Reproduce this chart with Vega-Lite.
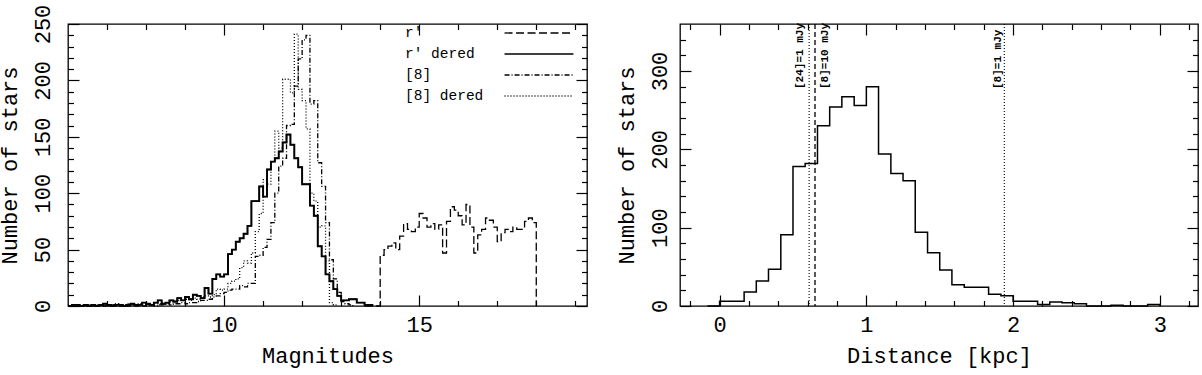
{
"$schema": "https://vega.github.io/schema/vega-lite/v6.json",
"background": "white",
"padding": {"left": -3, "top": 3, "right": 0, "bottom": 8},
"spacing": 25,
"config": {
  "view": {"stroke": "black", "strokeWidth": 1.3},
  "axis": {"grid": false, "domain": false, "tickColor": "black", "tickWidth": 1.2, "labelFlush": false, "labelOverlap": false,
    "labelFont": "Liberation Mono", "labelFontSize": 22, "labelColor": "black",
    "titleFont": "Liberation Mono", "titleFontSize": 22, "titleFontWeight": "normal", "titleColor": "black"}
},
"datasets": {
  "mag": [
    {"s":"r'","m":13.6,"n":0},{"s":"r'","m":13.7,"n":0},{"s":"r'","m":13.8,"n":0},{"s":"r'","m":13.9,"n":0},
    {"s":"r'","m":14.0,"n":45},{"s":"r'","m":14.1,"n":50},{"s":"r'","m":14.2,"n":53},{"s":"r'","m":14.3,"n":56},{"s":"r'","m":14.4,"n":50},
    {"s":"r'","m":14.5,"n":62},{"s":"r'","m":14.6,"n":73},{"s":"r'","m":14.7,"n":68},{"s":"r'","m":14.8,"n":66},{"s":"r'","m":14.9,"n":70},
    {"s":"r'","m":15.0,"n":82},{"s":"r'","m":15.1,"n":78},{"s":"r'","m":15.2,"n":70},{"s":"r'","m":15.3,"n":73},{"s":"r'","m":15.4,"n":68},
    {"s":"r'","m":15.5,"n":72},{"s":"r'","m":15.6,"n":47},{"s":"r'","m":15.7,"n":75},{"s":"r'","m":15.8,"n":88},{"s":"r'","m":15.9,"n":85},
    {"s":"r'","m":16.0,"n":80},{"s":"r'","m":16.1,"n":72},{"s":"r'","m":16.2,"n":90},{"s":"r'","m":16.3,"n":70},{"s":"r'","m":16.4,"n":47},
    {"s":"r'","m":16.5,"n":63},{"s":"r'","m":16.6,"n":68},{"s":"r'","m":16.7,"n":78},{"s":"r'","m":16.8,"n":76},{"s":"r'","m":16.9,"n":70},
    {"s":"r'","m":17.0,"n":57},{"s":"r'","m":17.1,"n":65},{"s":"r'","m":17.2,"n":68},{"s":"r'","m":17.3,"n":66},{"s":"r'","m":17.4,"n":70},
    {"s":"r'","m":17.5,"n":68},{"s":"r'","m":17.6,"n":68},{"s":"r'","m":17.7,"n":75},{"s":"r'","m":17.8,"n":78},{"s":"r'","m":17.9,"n":74},
    {"s":"r'","m":18.0,"n":0},

    {"s":"r' dered","m":6.0,"n":0},{"s":"r' dered","m":6.1,"n":1},{"s":"r' dered","m":6.2,"n":1},{"s":"r' dered","m":6.3,"n":0},{"s":"r' dered","m":6.4,"n":1},
    {"s":"r' dered","m":6.5,"n":0},{"s":"r' dered","m":6.6,"n":1},{"s":"r' dered","m":6.7,"n":0},{"s":"r' dered","m":6.8,"n":1},{"s":"r' dered","m":6.9,"n":2},
    {"s":"r' dered","m":7.0,"n":1},{"s":"r' dered","m":7.1,"n":0},{"s":"r' dered","m":7.2,"n":1},{"s":"r' dered","m":7.3,"n":1},{"s":"r' dered","m":7.4,"n":0},
    {"s":"r' dered","m":7.5,"n":1},{"s":"r' dered","m":7.6,"n":2},{"s":"r' dered","m":7.7,"n":1},{"s":"r' dered","m":7.8,"n":1},{"s":"r' dered","m":7.9,"n":3},
    {"s":"r' dered","m":8.0,"n":2},{"s":"r' dered","m":8.1,"n":1},{"s":"r' dered","m":8.2,"n":3},{"s":"r' dered","m":8.3,"n":5},{"s":"r' dered","m":8.4,"n":2},
    {"s":"r' dered","m":8.5,"n":3},{"s":"r' dered","m":8.6,"n":5},{"s":"r' dered","m":8.7,"n":4},{"s":"r' dered","m":8.8,"n":7},{"s":"r' dered","m":8.9,"n":5},
    {"s":"r' dered","m":9.0,"n":8},{"s":"r' dered","m":9.1,"n":6},{"s":"r' dered","m":9.2,"n":10},{"s":"r' dered","m":9.3,"n":9},{"s":"r' dered","m":9.4,"n":7},
    {"s":"r' dered","m":9.5,"n":16},{"s":"r' dered","m":9.6,"n":11},{"s":"r' dered","m":9.7,"n":24},{"s":"r' dered","m":9.8,"n":28},{"s":"r' dered","m":9.9,"n":26},
    {"s":"r' dered","m":10.0,"n":28},{"s":"r' dered","m":10.1,"n":46},{"s":"r' dered","m":10.2,"n":50},{"s":"r' dered","m":10.3,"n":57},{"s":"r' dered","m":10.4,"n":60},
    {"s":"r' dered","m":10.5,"n":64},{"s":"r' dered","m":10.6,"n":71},{"s":"r' dered","m":10.7,"n":93},{"s":"r' dered","m":10.8,"n":93},{"s":"r' dered","m":10.9,"n":106},
    {"s":"r' dered","m":11.0,"n":97},{"s":"r' dered","m":11.1,"n":121},{"s":"r' dered","m":11.2,"n":128},{"s":"r' dered","m":11.3,"n":131},{"s":"r' dered","m":11.4,"n":137},
    {"s":"r' dered","m":11.5,"n":145},{"s":"r' dered","m":11.6,"n":152},{"s":"r' dered","m":11.7,"n":143},{"s":"r' dered","m":11.8,"n":131},{"s":"r' dered","m":11.9,"n":123},
    {"s":"r' dered","m":12.0,"n":108},{"s":"r' dered","m":12.1,"n":108},{"s":"r' dered","m":12.2,"n":89},{"s":"r' dered","m":12.3,"n":80},{"s":"r' dered","m":12.4,"n":53},
    {"s":"r' dered","m":12.5,"n":44},{"s":"r' dered","m":12.6,"n":28},{"s":"r' dered","m":12.7,"n":22},{"s":"r' dered","m":12.8,"n":15},{"s":"r' dered","m":12.9,"n":9},
    {"s":"r' dered","m":13.0,"n":5},{"s":"r' dered","m":13.1,"n":5},{"s":"r' dered","m":13.2,"n":6},{"s":"r' dered","m":13.3,"n":6},{"s":"r' dered","m":13.4,"n":3},
    {"s":"r' dered","m":13.5,"n":3},{"s":"r' dered","m":13.6,"n":1},{"s":"r' dered","m":13.7,"n":1},{"s":"r' dered","m":13.8,"n":0},

    {"s":"[8]","m":6.0,"n":0},{"s":"[8]","m":6.1,"n":0},{"s":"[8]","m":6.2,"n":1},{"s":"[8]","m":6.3,"n":0},{"s":"[8]","m":6.4,"n":0},
    {"s":"[8]","m":6.5,"n":1},{"s":"[8]","m":6.6,"n":0},{"s":"[8]","m":6.7,"n":0},{"s":"[8]","m":6.8,"n":1},{"s":"[8]","m":6.9,"n":0},
    {"s":"[8]","m":7.0,"n":0},{"s":"[8]","m":7.1,"n":1},{"s":"[8]","m":7.2,"n":0},{"s":"[8]","m":7.3,"n":0},{"s":"[8]","m":7.4,"n":1},
    {"s":"[8]","m":7.5,"n":0},{"s":"[8]","m":7.6,"n":1},{"s":"[8]","m":7.7,"n":0},{"s":"[8]","m":7.8,"n":1},{"s":"[8]","m":7.9,"n":0},
    {"s":"[8]","m":8.0,"n":1},{"s":"[8]","m":8.1,"n":1},{"s":"[8]","m":8.2,"n":0},{"s":"[8]","m":8.3,"n":1},{"s":"[8]","m":8.4,"n":1},
    {"s":"[8]","m":8.5,"n":2},{"s":"[8]","m":8.6,"n":1},{"s":"[8]","m":8.7,"n":2},{"s":"[8]","m":8.8,"n":2},{"s":"[8]","m":8.9,"n":3},
    {"s":"[8]","m":9.0,"n":2},{"s":"[8]","m":9.1,"n":3},{"s":"[8]","m":9.2,"n":3},{"s":"[8]","m":9.3,"n":4},{"s":"[8]","m":9.4,"n":5},
    {"s":"[8]","m":9.5,"n":5},{"s":"[8]","m":9.6,"n":6},{"s":"[8]","m":9.7,"n":8},{"s":"[8]","m":9.8,"n":9},{"s":"[8]","m":9.9,"n":11},
    {"s":"[8]","m":10.0,"n":12},{"s":"[8]","m":10.1,"n":14},{"s":"[8]","m":10.2,"n":15},{"s":"[8]","m":10.3,"n":15},{"s":"[8]","m":10.4,"n":18},
    {"s":"[8]","m":10.5,"n":17},{"s":"[8]","m":10.6,"n":20},{"s":"[8]","m":10.7,"n":20},{"s":"[8]","m":10.8,"n":44},{"s":"[8]","m":10.9,"n":45},
    {"s":"[8]","m":11.0,"n":52},{"s":"[8]","m":11.1,"n":59},{"s":"[8]","m":11.2,"n":74},{"s":"[8]","m":11.3,"n":100},{"s":"[8]","m":11.4,"n":124},
    {"s":"[8]","m":11.5,"n":131},{"s":"[8]","m":11.6,"n":160},{"s":"[8]","m":11.7,"n":161},{"s":"[8]","m":11.8,"n":195},{"s":"[8]","m":11.9,"n":219},
    {"s":"[8]","m":12.0,"n":236},{"s":"[8]","m":12.1,"n":240},{"s":"[8]","m":12.2,"n":179},{"s":"[8]","m":12.3,"n":182},{"s":"[8]","m":12.4,"n":127},
    {"s":"[8]","m":12.5,"n":106},{"s":"[8]","m":12.6,"n":74},{"s":"[8]","m":12.7,"n":41},{"s":"[8]","m":12.8,"n":24},{"s":"[8]","m":12.9,"n":12},
    {"s":"[8]","m":13.0,"n":4},{"s":"[8]","m":13.1,"n":2},{"s":"[8]","m":13.2,"n":1},{"s":"[8]","m":13.3,"n":0},

    {"s":"[8] dered","m":6.0,"n":1},{"s":"[8] dered","m":6.1,"n":0},{"s":"[8] dered","m":6.2,"n":1},{"s":"[8] dered","m":6.3,"n":0},{"s":"[8] dered","m":6.4,"n":1},
    {"s":"[8] dered","m":6.5,"n":1},{"s":"[8] dered","m":6.6,"n":0},{"s":"[8] dered","m":6.7,"n":1},{"s":"[8] dered","m":6.8,"n":1},{"s":"[8] dered","m":6.9,"n":0},
    {"s":"[8] dered","m":7.0,"n":1},{"s":"[8] dered","m":7.1,"n":1},{"s":"[8] dered","m":7.2,"n":2},{"s":"[8] dered","m":7.3,"n":1},{"s":"[8] dered","m":7.4,"n":1},
    {"s":"[8] dered","m":7.5,"n":2},{"s":"[8] dered","m":7.6,"n":1},{"s":"[8] dered","m":7.7,"n":1},{"s":"[8] dered","m":7.8,"n":2},{"s":"[8] dered","m":7.9,"n":1},
    {"s":"[8] dered","m":8.0,"n":2},{"s":"[8] dered","m":8.1,"n":2},{"s":"[8] dered","m":8.2,"n":3},{"s":"[8] dered","m":8.3,"n":2},{"s":"[8] dered","m":8.4,"n":3},
    {"s":"[8] dered","m":8.5,"n":3},{"s":"[8] dered","m":8.6,"n":4},{"s":"[8] dered","m":8.7,"n":3},{"s":"[8] dered","m":8.8,"n":5},{"s":"[8] dered","m":8.9,"n":5},
    {"s":"[8] dered","m":9.0,"n":6},{"s":"[8] dered","m":9.1,"n":5},{"s":"[8] dered","m":9.2,"n":7},{"s":"[8] dered","m":9.3,"n":6},{"s":"[8] dered","m":9.4,"n":8},
    {"s":"[8] dered","m":9.5,"n":9},{"s":"[8] dered","m":9.6,"n":8},{"s":"[8] dered","m":9.7,"n":10},{"s":"[8] dered","m":9.8,"n":15},{"s":"[8] dered","m":9.9,"n":14},
    {"s":"[8] dered","m":10.0,"n":15},{"s":"[8] dered","m":10.1,"n":20},{"s":"[8] dered","m":10.2,"n":22},{"s":"[8] dered","m":10.3,"n":24},{"s":"[8] dered","m":10.4,"n":34},
    {"s":"[8] dered","m":10.5,"n":40},{"s":"[8] dered","m":10.6,"n":38},{"s":"[8] dered","m":10.7,"n":47},{"s":"[8] dered","m":10.8,"n":66},{"s":"[8] dered","m":10.9,"n":82},
    {"s":"[8] dered","m":11.0,"n":112},{"s":"[8] dered","m":11.1,"n":108},{"s":"[8] dered","m":11.2,"n":128},{"s":"[8] dered","m":11.3,"n":155},{"s":"[8] dered","m":11.4,"n":140},
    {"s":"[8] dered","m":11.5,"n":201},{"s":"[8] dered","m":11.6,"n":201},{"s":"[8] dered","m":11.7,"n":189},{"s":"[8] dered","m":11.8,"n":241},{"s":"[8] dered","m":11.9,"n":192},
    {"s":"[8] dered","m":12.0,"n":182},{"s":"[8] dered","m":12.1,"n":157},{"s":"[8] dered","m":12.2,"n":100},{"s":"[8] dered","m":12.3,"n":93},{"s":"[8] dered","m":12.4,"n":70},
    {"s":"[8] dered","m":12.5,"n":71},{"s":"[8] dered","m":12.6,"n":40},{"s":"[8] dered","m":12.7,"n":3},{"s":"[8] dered","m":12.8,"n":1},{"s":"[8] dered","m":12.9,"n":0}
  ],
  "dist": [
    {"d":-0.083,"n":0},{"d":0,"n":6},{"d":0.083,"n":6},{"d":0.167,"n":18},{"d":0.25,"n":32},{"d":0.333,"n":47},
    {"d":0.417,"n":91},{"d":0.5,"n":178},{"d":0.583,"n":182},{"d":0.667,"n":230},{"d":0.75,"n":254},{"d":0.833,"n":267},
    {"d":0.917,"n":256},{"d":1.0,"n":280},{"d":1.083,"n":194},{"d":1.167,"n":169},{"d":1.25,"n":160},{"d":1.333,"n":94},
    {"d":1.417,"n":68},{"d":1.5,"n":46},{"d":1.583,"n":27},{"d":1.667,"n":24},{"d":1.75,"n":24},{"d":1.833,"n":15},
    {"d":1.917,"n":13},{"d":2.0,"n":6},{"d":2.083,"n":6},{"d":2.167,"n":2},{"d":2.25,"n":5},{"d":2.333,"n":4},
    {"d":2.417,"n":3},{"d":2.5,"n":0},{"d":2.583,"n":0},{"d":2.667,"n":1},{"d":2.75,"n":0},{"d":2.833,"n":0},
    {"d":2.917,"n":2},{"d":3.0,"n":0}
  ],
  "lim": [
    {"d":0.61,"t":"[24]=1 mJy"},{"d":0.65,"t":"[8]=10 mJy"},{"d":1.94,"t":"[8]=1 mJy"}
  ]
},
"hconcat": [
  {
    "width": 519, "height": 282,
    "resolve": {"axis": {"x": "independent", "y": "independent"}},
    "layer": [
      {
        "data": {"name": "mag"},
        "mark": {"type": "line", "interpolate": "step-after", "color": "black", "strokeWidth": 1.3},
        "encoding": {
          "x": {"field": "m", "type": "quantitative", "scale": {"domain": [6, 19.3], "nice": false, "zero": false},
                "axis": {"orient": "bottom", "ticks": false, "values": [10, 15], "labelPadding": 8, "title": "Magnitudes", "titlePadding": 10}},
          "y": {"field": "n", "type": "quantitative", "scale": {"domain": [0, 250], "nice": false},
                "axis": {"orient": "left", "ticks": false, "values": [0, 50, 100, 150, 200, 250], "labelAngle": 270, "labelAlign": "center", "labelBaseline": "alphabetic", "labelPadding": 19, "title": "Number of stars", "titlePadding": 10}},
          "strokeDash": {"field": "s", "type": "nominal",
                "scale": {"domain": ["r'", "r' dered", "[8]", "[8] dered"], "range": [[8, 3.5], [1, 0], [5, 2, 1, 2], [1, 2]]},
                "legend": {"orient": "none", "legendX": 463, "legendY": 1, "title": null, "padding": 0,
                  "symbolType": "M-5,0H5", "symbolSize": 190, "symbolStrokeColor": "black", "symbolStrokeWidth": 1.3,
                  "labelFont": "Liberation Mono", "labelFontSize": 14.5, "labelColor": "black", "labelOffset": -142, "labelLimit": 300, "rowPadding": 6}}
        }
      },
      {
        "data": {"name": "mag"},
        "transform": [{"filter": "datum.s === \"r' dered\""}],
        "mark": {"type": "line", "interpolate": "step-after", "color": "black", "strokeWidth": 1.9},
        "encoding": {
          "x": {"field": "m", "type": "quantitative", "axis": null},
          "y": {"field": "n", "type": "quantitative", "axis": null}
        }
      },
      {
        "data": {"name": "mag"},
        "mark": {"type": "point", "opacity": 0},
        "encoding": {
          "x": {"field": "m", "type": "quantitative", "axis": {"orient": "bottom", "values": [10, 15], "labels": false, "tickSize": -11, "title": null}},
          "y": {"field": "n", "type": "quantitative", "axis": {"orient": "left", "values": [0, 50, 100, 150, 200, 250], "labels": false, "tickSize": -11, "title": null}}
        }
      },
      {
        "data": {"name": "mag"},
        "mark": {"type": "point", "opacity": 0},
        "encoding": {
          "x": {"field": "m", "type": "quantitative", "axis": {"orient": "bottom", "values": [7, 8, 9, 11, 12, 13, 14, 16, 17, 18, 19], "labels": false, "tickSize": -5.5, "title": null}},
          "y": {"field": "n", "type": "quantitative", "axis": {"orient": "left", "values": [10, 20, 30, 40, 60, 70, 80, 90, 110, 120, 130, 140, 160, 170, 180, 190, 210, 220, 230, 240], "labels": false, "tickSize": -5.5, "title": null}}
        }
      },
      {
        "data": {"name": "mag"},
        "mark": {"type": "point", "opacity": 0},
        "encoding": {
          "x": {"field": "m", "type": "quantitative", "axis": {"orient": "top", "values": [10, 15], "labels": false, "tickSize": -11, "title": null}},
          "y": {"field": "n", "type": "quantitative", "axis": {"orient": "right", "values": [0, 50, 100, 150, 200, 250], "labels": false, "tickSize": -11, "title": null}}
        }
      },
      {
        "data": {"name": "mag"},
        "mark": {"type": "point", "opacity": 0},
        "encoding": {
          "x": {"field": "m", "type": "quantitative", "axis": {"orient": "top", "values": [7, 8, 9, 11, 12, 13, 14, 16, 17, 18, 19], "labels": false, "tickSize": -5.5, "title": null}},
          "y": {"field": "n", "type": "quantitative", "axis": {"orient": "right", "values": [10, 20, 30, 40, 60, 70, 80, 90, 110, 120, 130, 140, 160, 170, 180, 190, 210, 220, 230, 240], "labels": false, "tickSize": -5.5, "title": null}}
        }
      }
    ]
  },
  {
    "width": 518, "height": 282,
    "resolve": {"axis": {"x": "independent", "y": "independent"}},
    "layer": [
      {
        "data": {"name": "dist"},
        "mark": {"type": "line", "interpolate": "step-after", "color": "black", "strokeWidth": 1.5},
        "encoding": {
          "x": {"field": "d", "type": "quantitative", "scale": {"domain": [-0.27, 3.26], "nice": false, "zero": false},
                "axis": {"orient": "bottom", "ticks": false, "values": [0, 1, 2, 3], "labelPadding": 8, "title": "Distance [kpc]", "titlePadding": 10}},
          "y": {"field": "n", "type": "quantitative", "scale": {"domain": [0, 360], "nice": false},
                "axis": {"orient": "left", "ticks": false, "values": [0, 100, 200, 300], "labelAngle": 270, "labelAlign": "center", "labelBaseline": "alphabetic", "labelPadding": 14, "title": "Number of stars", "titlePadding": 10}}
        }
      },
      {
        "data": {"name": "lim"},
        "transform": [{"filter": "datum.t !== '[8]=10 mJy'"}],
        "mark": {"type": "rule", "color": "black", "strokeWidth": 1.1, "strokeDash": [1, 2]},
        "encoding": {"x": {"field": "d", "type": "quantitative", "axis": null}}
      },
      {
        "data": {"name": "lim"},
        "transform": [{"filter": "datum.t === '[8]=10 mJy'"}],
        "mark": {"type": "rule", "color": "black", "strokeWidth": 1.3, "strokeDash": [5, 3]},
        "encoding": {"x": {"field": "d", "type": "quantitative", "axis": null}}
      },
      {
        "data": {"name": "lim"},
        "transform": [{"filter": "datum.t === '[24]=1 mJy'"}],
        "mark": {"type": "text", "angle": 270, "align": "left", "baseline": "alphabetic", "dy": -6, "font": "Liberation Mono", "fontSize": 11, "fontWeight": "bold", "color": "black"},
        "encoding": {"x": {"field": "d", "type": "quantitative", "axis": null}, "y": {"datum": 277, "type": "quantitative", "axis": null}, "text": {"field": "t"}}
      },
      {
        "data": {"name": "lim"},
        "transform": [{"filter": "datum.t === '[8]=1 mJy'"}],
        "mark": {"type": "text", "angle": 270, "align": "left", "baseline": "alphabetic", "dy": -3, "font": "Liberation Mono", "fontSize": 11, "fontWeight": "bold", "color": "black"},
        "encoding": {"x": {"field": "d", "type": "quantitative", "axis": null}, "y": {"datum": 277, "type": "quantitative", "axis": null}, "text": {"field": "t"}}
      },
      {
        "data": {"name": "lim"},
        "transform": [{"filter": "datum.t === '[8]=10 mJy'"}],
        "mark": {"type": "text", "angle": 270, "align": "left", "baseline": "top", "dy": 4, "font": "Liberation Mono", "fontSize": 11, "fontWeight": "bold", "color": "black"},
        "encoding": {"x": {"field": "d", "type": "quantitative", "axis": null}, "y": {"datum": 277, "type": "quantitative", "axis": null}, "text": {"field": "t"}}
      },
      {
        "data": {"name": "dist"},
        "mark": {"type": "point", "opacity": 0},
        "encoding": {
          "x": {"field": "d", "type": "quantitative", "axis": {"orient": "bottom", "values": [0, 1, 2, 3], "labels": false, "tickSize": -11, "title": null}},
          "y": {"field": "n", "type": "quantitative", "axis": {"orient": "left", "values": [0, 100, 200, 300], "labels": false, "tickSize": -11, "title": null}}
        }
      },
      {
        "data": {"name": "dist"},
        "mark": {"type": "point", "opacity": 0},
        "encoding": {
          "x": {"field": "d", "type": "quantitative", "axis": {"orient": "bottom", "values": [-0.2, 0.2, 0.4, 0.6, 0.8, 1.2, 1.4, 1.6, 1.8, 2.2, 2.4, 2.6, 2.8, 3.2], "labels": false, "tickSize": -5.5, "title": null}},
          "y": {"field": "n", "type": "quantitative", "axis": {"orient": "left", "values": [20, 40, 60, 80, 120, 140, 160, 180, 220, 240, 260, 280, 320, 340], "labels": false, "tickSize": -5.5, "title": null}}
        }
      },
      {
        "data": {"name": "dist"},
        "mark": {"type": "point", "opacity": 0},
        "encoding": {
          "x": {"field": "d", "type": "quantitative", "axis": {"orient": "top", "values": [0, 1, 2, 3], "labels": false, "tickSize": -11, "title": null}},
          "y": {"field": "n", "type": "quantitative", "axis": {"orient": "right", "values": [0, 100, 200, 300], "labels": false, "tickSize": -11, "title": null}}
        }
      },
      {
        "data": {"name": "dist"},
        "mark": {"type": "point", "opacity": 0},
        "encoding": {
          "x": {"field": "d", "type": "quantitative", "axis": {"orient": "top", "values": [-0.2, 0.2, 0.4, 0.6, 0.8, 1.2, 1.4, 1.6, 1.8, 2.2, 2.4, 2.6, 2.8, 3.2], "labels": false, "tickSize": -5.5, "title": null}},
          "y": {"field": "n", "type": "quantitative", "axis": {"orient": "right", "values": [20, 40, 60, 80, 120, 140, 160, 180, 220, 240, 260, 280, 320, 340], "labels": false, "tickSize": -5.5, "title": null}}
        }
      }
    ]
  }
]
}
